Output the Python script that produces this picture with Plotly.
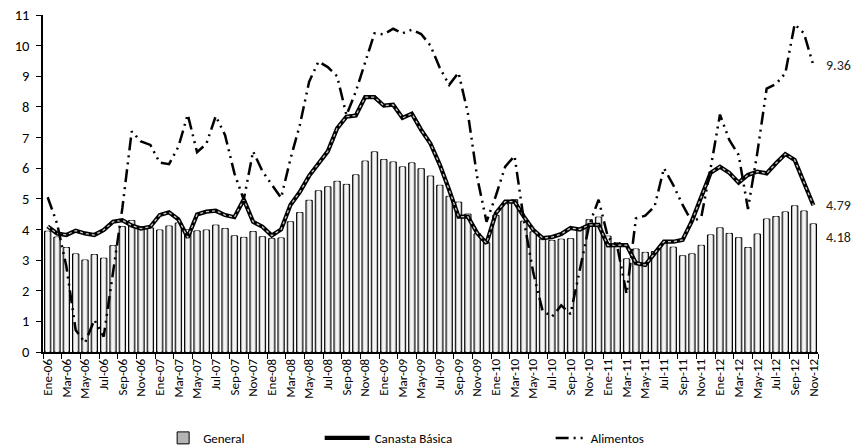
import plotly.graph_objects as go

MONTHS = ["Ene", "Feb", "Mar", "Abr", "May", "Jun", "Jul", "Ago", "Sep", "Oct", "Nov", "Dic"]
YEARS = ["06", "07", "08", "09", "10", "11", "12"]
categories = [f"{m}-{y}" for y in YEARS for m in MONTHS][:83]

general = [
    3.94, 3.75, 3.41, 3.20, 3.00, 3.18, 3.06, 3.47, 4.09, 4.29, 4.09, 4.05,
    3.98, 4.11, 4.21, 3.99, 3.95, 3.98, 4.14, 4.03, 3.79, 3.74, 3.93, 3.76,
    3.70, 3.72, 4.25, 4.55, 4.95, 5.26, 5.39, 5.57, 5.47, 5.78, 6.23, 6.53,
    6.28, 6.20, 6.04, 6.17, 5.98, 5.74, 5.44, 5.08, 4.89, 4.50, 3.86, 3.57,
    4.46, 4.83, 4.97, 4.27, 3.92, 3.69, 3.64, 3.68, 3.70, 4.02, 4.32, 4.40,
    3.78, 3.57, 3.04, 3.36, 3.25, 3.28, 3.55, 3.42, 3.14, 3.20, 3.48, 3.82,
    4.05, 3.87, 3.73, 3.41, 3.85, 4.34, 4.42, 4.57, 4.77, 4.60, 4.18,
]

canasta = [
    4.10, 3.87, 3.82, 3.96, 3.87, 3.82, 3.98, 4.25, 4.30, 4.13, 4.03, 4.09,
    4.47, 4.56, 4.33, 3.74, 4.49, 4.58, 4.61, 4.47, 4.40, 4.98, 4.25, 4.09,
    3.80, 4.00, 4.80, 5.22, 5.75, 6.16, 6.55, 7.30, 7.68, 7.72, 8.32, 8.32,
    8.04, 8.07, 7.64, 7.78, 7.25, 6.80, 6.11, 5.29, 4.42, 4.42, 3.88, 3.55,
    4.53, 4.91, 4.91, 4.42, 3.99, 3.72, 3.75, 3.85, 4.05, 4.00, 4.15, 4.15,
    3.48, 3.49, 3.49, 2.90, 2.84, 3.22, 3.60, 3.60, 3.66, 4.28, 5.07, 5.85,
    6.05, 5.85, 5.53, 5.78, 5.89, 5.83, 6.16, 6.46, 6.27, 5.56, 4.79,
]

alimentos = [
    5.05, 4.20, 2.80, 0.72, 0.30, 1.05, 0.50, 2.60, 4.70, 7.20, 6.87, 6.76,
    6.18, 6.13, 6.70, 7.75, 6.52, 6.80, 7.70, 7.08, 5.83, 4.97, 6.55, 5.90,
    5.45, 5.03, 6.30, 7.40, 8.82, 9.48, 9.30, 9.00, 7.73, 8.50, 9.45, 10.40,
    10.37, 10.55, 10.40, 10.52, 10.38, 10.00, 9.27, 8.72, 9.12, 7.80, 5.70, 4.25,
    5.10, 6.05, 6.40, 4.30, 2.60, 1.35, 1.15, 1.52, 1.24, 2.70, 4.15, 4.97,
    3.75, 3.45, 1.90, 4.36, 4.45, 4.75, 6.00, 5.45, 4.80, 4.25, 4.40, 6.00,
    7.75, 6.92, 6.43, 4.67, 6.50, 8.60, 8.75, 9.10, 10.70, 10.40, 9.36,
]

FONT = "Carlito, Lato, sans-serif"

fig = go.Figure()

# General bars (outer + inner highlight to mimic the gradient fill)
fig.add_trace(go.Bar(
    x=categories, y=general, name="General", width=0.68,
    marker=dict(color="#b4b4b4", line=dict(color="black", width=1)),
    legend="legend",
))
fig.add_trace(go.Bar(
    x=categories, y=general, name="General", width=0.36,
    marker=dict(color="#f4f4f4", line=dict(width=0)),
    showlegend=False, hoverinfo="skip",
))

# Canasta Básica: thick black line with light dotted core
fig.add_trace(go.Scatter(
    x=categories, y=canasta, name="Canasta Básica", mode="lines",
    line=dict(color="black", width=4.2),
    legend="legend2",
))
fig.add_trace(go.Scatter(
    x=categories, y=canasta, name="Canasta Básica", mode="lines",
    line=dict(color="#c8c8c8", width=1.3, dash="dot"),
    showlegend=False, hoverinfo="skip",
))

# Alimentos: long dash - dot - dot
fig.add_trace(go.Scatter(
    x=categories, y=alimentos, name="Alimentos", mode="lines",
    line=dict(color="black", width=2.5, dash="13px,5px,2px,5px,2px,5px"),
    legend="legend3",
))

annotations = []
for val, ypos in [(alimentos[-1], alimentos[-1]), (canasta[-1], canasta[-1]), (general[-1], general[-1] - 0.45)]:
    annotations.append(dict(
        x=1, xref="paper", xanchor="left", xshift=6,
        y=ypos, yref="y", yanchor="middle",
        text=f"{val:.2f}", showarrow=False,
        font=dict(family=FONT, size=14, color="#222222"),
    ))

legend_common = dict(orientation="h", y=-0.255, yanchor="middle", xanchor="left",
                     font=dict(family=FONT, size=13, color="black"),
                     bgcolor="rgba(0,0,0,0)")

fig.update_layout(
    width=855, height=447,
    margin=dict(l=43, r=37, t=15, b=95, autoexpand=False),
    paper_bgcolor="white", plot_bgcolor="white",
    barmode="overlay", bargap=0.3,
    font=dict(family=FONT, size=13, color="black"),
    annotations=annotations,
    legend=dict(x=0.155, itemwidth=30, **legend_common),
    legend2=dict(x=0.357, itemwidth=45, **legend_common),
    legend3=dict(x=0.655, itemwidth=30, **legend_common),
    xaxis=dict(
        type="category", range=[-0.5, len(categories) - 0.5],
        tickvals=categories[::2], ticktext=categories[::2],
        tickson="boundaries", ticks="outside", ticklen=5, tickcolor="black",
        tickangle=-90, tickfont=dict(family=FONT, size=13, color="black"),
        showline=True, linecolor="black", linewidth=1.5,
        showgrid=False, zeroline=False,
    ),
    yaxis=dict(
        range=[0, 11], dtick=1, tick0=0,
        ticks="outside", ticklen=5, tickcolor="black",
        tickfont=dict(family=FONT, size=14.5, color="black"),
        ticklabelstandoff=4,
        showline=True, linecolor="black", linewidth=1.5,
        showgrid=False, zeroline=False,
    ),
)

fig.write_html(
    "out.html",
    config={"displayModeBar": False},
    post_script="document.body.style.margin='0';document.body.style.overflow='hidden';",
)
